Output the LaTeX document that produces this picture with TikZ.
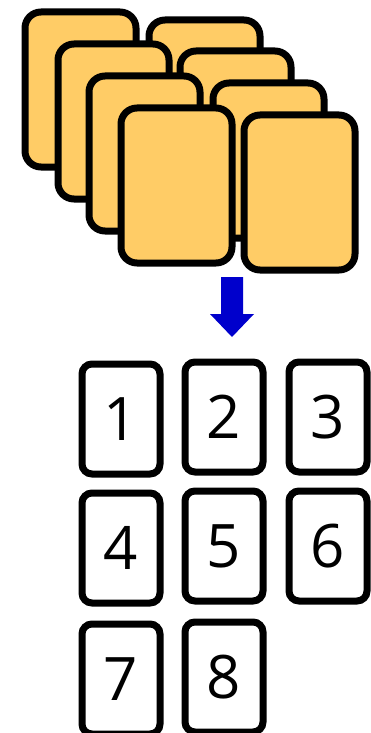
\documentclass[tikz,border=0pt]{standalone}
\usepackage{fontspec}
\setmainfont{Open Sans}
\definecolor{cardfill}{HTML}{FFCC66}
\definecolor{arrowblue}{HTML}{0000CC}
\begin{document}
\begin{tikzpicture}[x=1pt,y=-1pt,
  backcard/.style={draw=black, line width=7pt, fill=cardfill, rounded corners=16pt,
    minimum width=111pt, minimum height=155pt, inner sep=0pt, anchor=north west},
  numcard/.style={draw=black, line width=7pt, fill=white, rounded corners=10pt,
    minimum width=78pt, minimum height=110pt, inner sep=0pt, anchor=north west,
    font=\fontsize{60}{60}\selectfont}]
\useasboundingbox (0,0) rectangle (370,733);
% stacked cards (outer top-left + 3.5 inset)
\node[backcard] (a) at (21.5,8.5) {};
\node[backcard] (e) at (145.5,16.5) {};
\node[backcard] (b) at (54.5,40.5) {};
\node[backcard] (f) at (176.5,47.5) {};
\node[backcard] (c) at (85.5,72.5) {};
\node[backcard] (g) at (209.5,79.5) {};
\node[backcard] (d) at (117.5,104.5) {};
\node[backcard] (h) at (240.5,111.5) {};
% block arrow
\fill[arrowblue] (221,277) -- (243,277) -- (243,314) -- (254,314) -- (232,337)
  -- (210,314) -- (221,314) -- cycle;
% numbered cards
\node[numcard] (n1) at (78.5,360.5) {1};
\node[numcard] (n2) at (181.5,358.5) {2};
\node[numcard] (n3) at (285.5,358.5) {3};
\node[numcard] (n4) at (78.5,489.5) {4};
\node[numcard] (n5) at (181.5,487.5) {5};
\node[numcard] (n6) at (285.5,487.5) {6};
\node[numcard] (n7) at (78.5,620.5) {7};
\node[numcard] (n8) at (181.5,618.5) {8};
\end{tikzpicture}
\end{document}
